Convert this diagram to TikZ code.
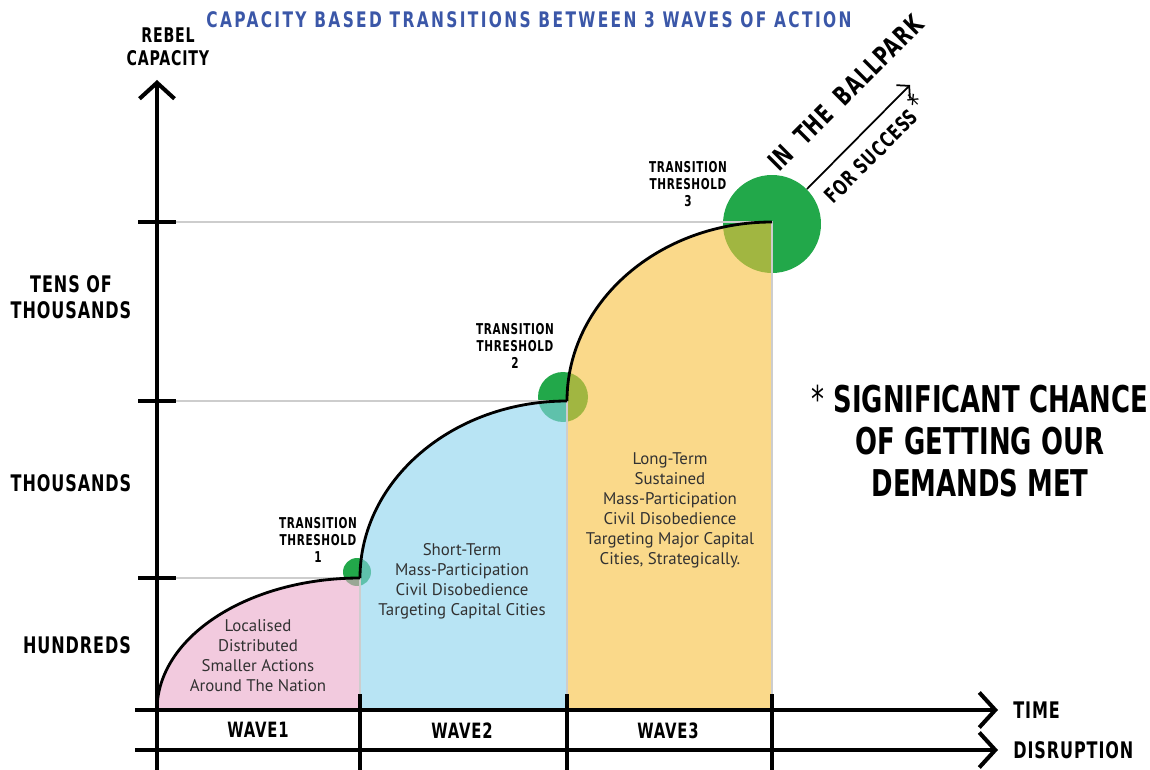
\documentclass[tikz,border=0pt]{standalone}
\usepackage{fontspec}
\setmainfont{PT Sans}
\newfontfamily\capsfont{DejaVu Sans Condensed}[FakeStretch=0.78,LetterSpace=4]
\newfontfamily\tightfont{DejaVu Sans Condensed}[FakeStretch=0.78]
\newfontfamily\titlefont{DejaVu Sans Condensed}[FakeStretch=0.8,LetterSpace=11]
\usetikzlibrary{arrows.meta}

\definecolor{rebelgreen}{RGB}{34,168,74}
\definecolor{waveone}{RGB}{233,167,200}
\definecolor{wavetwo}{RGB}{137,210,237}
\definecolor{wavethree}{RGB}{247,192,60}
\definecolor{titleblue}{RGB}{59,87,168}
\definecolor{guidegray}{RGB}{205,205,205}
\definecolor{bodytext}{RGB}{50,50,50}

\begin{document}
\begin{tikzpicture}
    [
    x=0.02cm,y=-0.02cm,
    axis/.style={line width=2.3pt},
    chevron/.style={-{Straight Barb[length=0.32cm,width=0.7cm]}},
    tick/.style={line width=2.3pt},
    guide/.style={guidegray,line width=0.6pt},
    wavefill/.style={fill opacity=0.6},
    threshold/.style={circle,fill=rebelgreen,inner sep=0pt},
    caps/.style={font={\capsfont\bfseries\fontsize{#1}{1.15\dimexpr#1\relax}\selectfont},
        align=center,inner sep=0pt},
    caps/.default=10pt,
    blurb/.style={font={\fontsize{9.6pt}{11.4pt}\selectfont},text=bodytext,
        align=center,inner sep=0pt},
    ]
    \useasboundingbox (0,0) rectangle (1150,770);

    % Corners of the three waves
    \coordinate (o) at (157,710);
    \coordinate (t1) at (360,578);
    \coordinate (t2) at (567,401);
    \coordinate (t3) at (772,222);

    % Thresholds (drawn under the waves)
    \node[threshold,minimum size=0.56cm] (c1) at (357,572) {};
    \node[threshold,minimum size=1cm] (c2) at (563,397) {};
    \node[threshold,minimum size=1.96cm] (c3) at (772,224) {};

    % Waves
    \fill[waveone,wavefill] (o) .. controls (157,637) and (248,578) .. (t1)
        -- (360,710) -- cycle;
    \fill[wavetwo,wavefill] (t1) .. controls (360,480) and (453,401) .. (t2)
        -- (567,710) -- (360,710) -- cycle;
    \fill[wavethree,wavefill] (t2) .. controls (567,302) and (659,222) .. (t3)
        -- (772,710) -- (567,710) -- cycle;

    % Guide lines
    \draw[guide] (176,578) -- (t1) -- (360,710);
    \draw[guide] (176,401) -- (t2) -- (567,710);
    \draw[guide] (176,222) -- (t3) -- (772,710);

    % Capacity curve
    \draw[line width=1.6pt] (o) .. controls (157,637) and (248,578) .. (t1);
    \draw[line width=1.6pt] (t1) .. controls (360,480) and (453,401) .. (t2);
    \draw[line width=1.6pt] (t2) .. controls (567,302) and (659,222) .. (t3);

    % Axes
    \draw[axis,chevron] (157,770) -- (157,80);
    \draw[axis,chevron] (135,710) -- (998,710);
    \draw[axis,chevron] (135,750) -- (998,750);
    \draw[tick] (138,578) -- (176,578);
    \draw[tick] (138,401) -- (176,401);
    \draw[tick] (138,222) -- (176,222);
    \draw[tick] (360,694) -- (360,770);
    \draw[tick] (567,694) -- (567,770);
    \draw[tick] (772,694) -- (772,770);

    % Axis labels
    \node[caps=11.5pt] (ylabel) at (168,47) {REBEL\\CAPACITY};
    \node[caps=13pt] (tens) at (71,297) {TENS OF\\THOUSANDS};
    \node[caps=13pt] (thousands) at (71,483) {THOUSANDS};
    \node[caps=13pt] (hundreds) at (77,645) {HUNDREDS};
    \node[caps=13pt,anchor=west] (time) at (1013,710) {TIME};
    \node[caps=13pt,anchor=west] (disruption) at (1013,750) {DISRUPTION};
    \node[caps=12pt] (w1) at (258,730) {WAVE1};
    \node[caps=12pt] (w2) at (462,731) {WAVE2};
    \node[caps=12pt] (w3) at (668,731) {WAVE3};

    % Threshold labels
    \node[caps=8.5pt] (l1) at (318,540) {TRANSITION\\THRESHOLD\\1};
    \node[caps=8.5pt] (l2) at (515,346) {TRANSITION\\THRESHOLD\\2};
    \node[caps=8.5pt] (l3) at (688,184) {TRANSITION\\THRESHOLD\\3};

    % Wave descriptions
    \node[blurb] (d1) at (258,656)
        {Localised\\Distributed\\Smaller Actions\\Around The Nation};
    \node[blurb] (d2) at (462,581)
        {Short-Term\\Mass-Participation\\Civil Disobedience\\Targeting Capital Cities};
    \node[blurb] (d3) at (670,510)
        {Long-Term\\Sustained\\Mass-Participation\\Civil Disobedience\\
         Targeting Major Capital\\Cities, Strategically.};

    % Success arrow
    \coordinate (goal) at (910,85);
    \draw[line width=1pt,-{Straight Barb[length=0.17cm,width=0.38cm]}] (c3.45) -- (goal);
    \node[caps=15pt,rotate=45,anchor=base west] (ballpark) at (779,173)
        {IN\hspace{0.5em}THE\hspace{0.5em}BALLPARK};
    \node[caps=12pt,rotate=45,anchor=base west] (success) at (833,205)
        {FOR SUCCESS\hspace{0.2em}\raisebox{0.1em}{\mdseries\fontsize{17pt}{17pt}\selectfont*}};

    % Footnote
    \node[font={\tightfont\bfseries\fontsize{21pt}{24pt}\selectfont},align=center,
        inner sep=0pt] (chance) at (980,441)
        {{\mdseries*} SIGNIFICANT CHANCE\\OF GETTING OUR\\DEMANDS MET};

    % Title
    \node[font={\titlefont\bfseries\fontsize{12.2pt}{14pt}\selectfont},text=titleblue,
        inner sep=0pt] (title) at (529,20) {CAPACITY BASED TRANSITIONS BETWEEN 3 WAVES OF ACTION};
\end{tikzpicture}
\end{document}
